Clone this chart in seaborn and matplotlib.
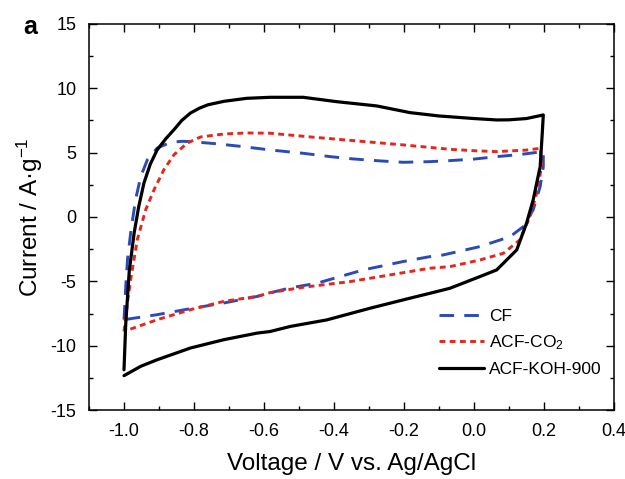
import matplotlib
matplotlib.use("Agg")
import matplotlib.pyplot as plt
from matplotlib.ticker import MultipleLocator
import seaborn as sns
import pandas as pd

# ---- data ----
cf_v = [-1.0, -0.995, -0.99, -0.981, -0.967, -0.952, -0.933, -0.905, -0.867, -0.835, -0.81, -0.74, -0.667,
        -0.583, -0.488, -0.411, -0.345, -0.269, -0.202, -0.126, -0.069, 0.0, 0.065, 0.13, 0.198,
        0.198, 0.189, 0.169, 0.141, 0.103, 0.017, -0.088, -0.126, -0.202, -0.316, -0.449,
        -0.524, -0.583, -0.619, -0.714, -0.81, -0.905, -1.0]
cf_i = [-7.98, -5.39, -3.3, -1.24, 1.35, 3.16, 4.46, 5.36, 5.8, 5.88, 5.86, 5.7, 5.49,
        5.21, 4.95, 4.69, 4.51, 4.36, 4.25, 4.3, 4.38, 4.5, 4.69, 4.85, 5.08,
        3.91, 2.36, 0.55, -0.75, -1.53, -2.3, -2.95, -3.08, -3.46, -4.11, -5.15,
        -5.5, -5.9, -6.17, -6.68, -7.12, -7.59, -7.98]

co2_v = [-1.0, -0.99, -0.981, -0.962, -0.938, -0.914, -0.886, -0.857, -0.819, -0.781, -0.714, -0.648,
         -0.583, -0.459, -0.335, -0.202, -0.069, 0.0, 0.065, 0.15, 0.19,
         0.193, 0.179, 0.16, 0.131, 0.084, 0.017, -0.069, -0.126, -0.24, -0.354, -0.488,
         -0.583, -0.619, -0.714, -0.81, -0.905, -1.0]
co2_i = [-8.89, -6.6, -4.87, -1.76, 0.57, 2.12, 3.68, 4.84, 5.75, 6.22, 6.45, 6.53,
         6.51, 6.2, 5.91, 5.6, 5.26, 5.15, 5.08, 5.2, 5.34,
         3.91, 1.85, 0.03, -1.78, -2.82, -3.34, -3.86, -3.98, -4.5, -5.02, -5.46,
         -5.88, -6.17, -6.55, -7.2, -7.98, -8.89]

koh_v = [-1.0, -0.995, -0.985, -0.971, -0.958, -0.943, -0.925, -0.905, -0.88, -0.857, -0.835,
         -0.81, -0.785, -0.76, -0.714, -0.65, -0.583, -0.488, -0.392, -0.278, -0.183, -0.1, 0.0,
         0.065, 0.1, 0.15, 0.198,
         0.195, 0.189, 0.169, 0.15, 0.122, 0.065, 0.017, -0.069, -0.126, -0.183, -0.297,
         -0.421, -0.524, -0.583, -0.619, -0.714, -0.81, -0.905, -0.952, -1.0]
koh_i = [-11.87, -8.3, -4.2, -1.24, 0.8, 2.64, 4.1, 5.23, 6.1, 6.79, 7.5,
         8.08, 8.45, 8.72, 8.99, 9.22, 9.3, 9.3, 8.96, 8.63, 8.11, 7.85, 7.65,
         7.54, 7.55, 7.65, 7.93,
         6.5, 3.91, 1.32, -0.49, -2.56, -4.11, -4.63, -5.54, -5.93, -6.31, -7.09,
         -8.0, -8.5, -8.9, -9.02, -9.53, -10.18, -11.09, -11.6, -12.33]

labels = ["CF", "ACF-CO$_2$", "ACF-KOH-900"]
colors = ["#2c4ab5", "#e5261d", "#000000"]
dashes = [(5, 3.5), (2, 1.5), ""]
linewidths = [2.1, 2.1, 2.3]

xticks = [-1.0, -0.8, -0.6, -0.4, -0.2, 0.0, 0.2, 0.4]
yticks = [-15, -10, -5, 0, 5, 10, 15]

sns.set_theme(style="ticks")
plt.rcParams["font.family"] = ["Liberation Sans", "DejaVu Sans"]
plt.rcParams["mathtext.fontset"] = "custom"
plt.rcParams["mathtext.rm"] = "Liberation Sans"
plt.rcParams["mathtext.it"] = "Liberation Sans:italic"
plt.rcParams["axes.unicode_minus"] = False
plt.rcParams["text.color"] = "black"
plt.rcParams["axes.labelcolor"] = "black"

fig = plt.figure(figsize=(6.25, 4.79), dpi=100)
ax = fig.add_axes([0.1424, 0.144, 0.84, 0.806])

series = [(cf_v, cf_i), (co2_v, co2_i), (koh_v, koh_i)]
for (v, i), lab, col, dsh, lw in zip(series, labels, colors, dashes, linewidths):
    df = pd.DataFrame({"V": v, "I": i})
    sns.lineplot(data=df, x="V", y="I", sort=False, estimator=None, ax=ax,
                 color=col, linewidth=lw, label=lab)
    ln = ax.lines[-1]
    if dsh:
        ln.set_dashes(dsh)
    ln.set_solid_joinstyle("round")
    ln.set_dash_joinstyle("round")

ax.set_xlim(-1.1, 0.4)
ax.set_ylim(-15, 15)
ax.set_xticks(xticks)
ax.set_xticklabels([f"{t:.1f}" for t in xticks])
ax.set_yticks(yticks)
ax.set_yticklabels([str(t) for t in yticks])
ax.xaxis.set_minor_locator(MultipleLocator(0.1))
ax.yaxis.set_minor_locator(MultipleLocator(2.5))
ax.tick_params(which="both", direction="in", top=True, right=True, labelsize=13,
               color="black", labelcolor="black", width=1.0)
ax.tick_params(which="major", length=6, pad=9)
ax.tick_params(which="minor", length=3)
for s in ax.spines.values():
    s.set_linewidth(1.1)
    s.set_color("black")

ax.set_xlabel("Voltage / V vs. Ag/AgCl", fontsize=17.5, labelpad=10)
ax.set_ylabel("Current / A·g$^{-1}$", fontsize=17.5, labelpad=4)

leg = ax.legend(loc="lower right", bbox_to_anchor=(1.0, 0.055), frameon=False, fontsize=12.5,
                handlelength=2.6, handletextpad=0.3, labelspacing=0.55, borderaxespad=0.3)

fig.text(0.038, 0.944, "a", fontsize=18, fontweight="bold", ha="left", va="center")

fig.savefig("out.png", dpi=100)
